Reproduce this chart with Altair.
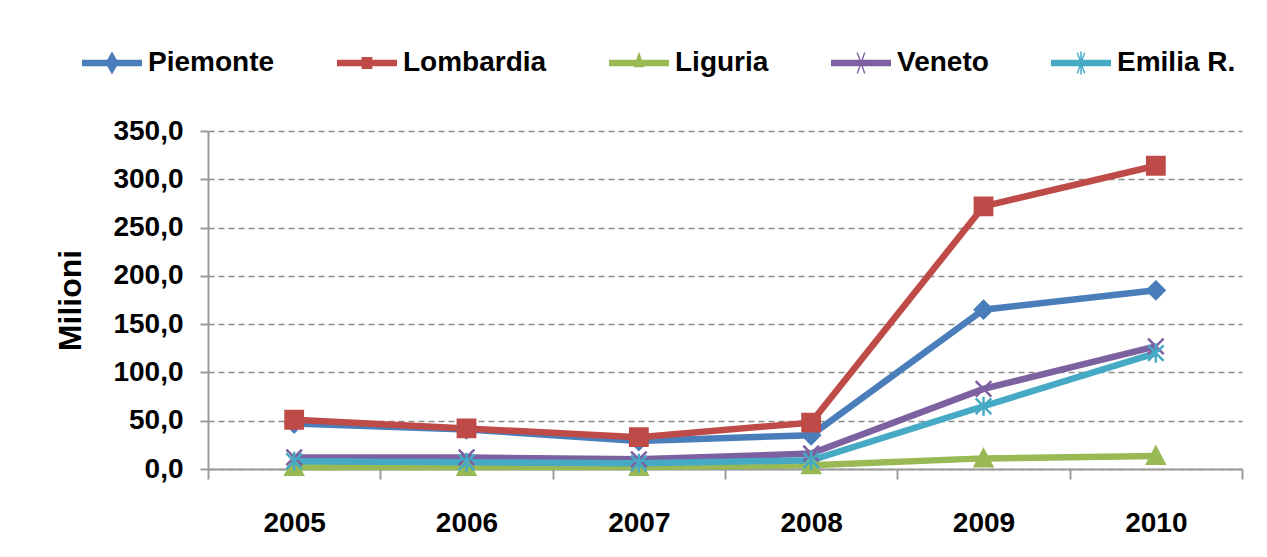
import altair as alt
import pandas as pd

years = ["2005", "2006", "2007", "2008", "2009", "2010"]
series = ["Piemonte", "Lombardia", "Liguria", "Veneto", "Emilia R."]
piemonte = [47, 41, 29, 35, 165, 185]
lombardia = [51, 42, 33, 48, 272, 314]
liguria = [2, 2, 2, 4, 11, 13.5]
veneto = [12, 12, 10, 16, 83, 127]
emilia = [8, 7, 6, 9, 65, 120]
y_ticks = [0, 50, 100, 150, 200, 250, 300, 350]

colors = ["#4A7EBB", "#BE4B48", "#98B954", "#7D60A0", "#46AAC5"]

marker_paths = [
    "M0,-1L1,0L0,1L-1,0Z",
    "M-1,-1L1,-1L1,1L-1,1Z",
    "M0,-1L1,0.9L-1,0.9Z",
    "M-0.9,-0.9L0.9,0.9M-0.9,0.9L0.9,-0.9",
    "M-0.9,-0.9L0.9,0.9M-0.9,0.9L0.9,-0.9M0,-1.1L0,1.1",
]

bar = "M-1,-0.11L1,-0.11L1,0.11L-1,0.11Z"
legend_paths = [
    bar + "M0,-0.38L0.22,0L0,0.38L-0.22,0Z",
    bar + "M-0.18,-0.2L0.18,-0.2L0.18,0.2L-0.18,0.2Z",
    bar + "M0,-0.38L0.18,0.14L-0.18,0.14Z",
    bar + "M-0.15,-0.35L-0.1,-0.35L0.15,0.35L0.1,0.35Z"
          "M0.1,-0.35L0.15,-0.35L-0.1,0.35L-0.15,0.35Z",
    bar + "M-0.15,-0.35L-0.1,-0.35L0.15,0.35L0.1,0.35Z"
          "M0.1,-0.35L0.15,-0.35L-0.1,0.35L-0.15,0.35Z"
          "M-0.025,-0.38L0.025,-0.38L0.025,0.38L-0.025,0.38Z",
]

values = [piemonte, lombardia, liguria, veneto, emilia]
rows = []
for s, vals in zip(series, values):
    for y, v in zip(years, vals):
        rows.append({"year": y, "series": s, "value": v})
df = pd.DataFrame(rows)

FONT = "Liberation Sans"

x_enc = alt.X(
    "year:O",
    bandPosition=0.5,
    scale=alt.Scale(type="band", domain=years, paddingInner=0, paddingOuter=0),
    axis=alt.Axis(
        title=None,
        tickBand="extent",
        tickSize=10,
        tickColor="#9a9a9a",
        tickWidth=2,
        domainColor="#9a9a9a",
        domainWidth=2,
        labelFont=FONT,
        labelFontSize=28,
        labelFontWeight="bold",
        labelColor="#000000",
        labelPadding=30,
        labelAngle=0,
        grid=False,
    ),
)

y_enc = alt.Y(
    "value:Q",
    scale=alt.Scale(domain=[0, 350], nice=False, zero=True),
    axis=alt.Axis(
        title="Milioni",
        titleFont=FONT,
        titleFontSize=32,
        titleFontWeight="bold",
        titleColor="#000000",
        titleX=-138,
        titleY=169,
        titleAngle=270,
        titleAlign="center",
        titleBaseline="middle",
        values=y_ticks,
        labelExpr="replace(format(datum.value, '.1f'), '.', ',')",
        labelFont=FONT,
        labelFontSize=28,
        labelFontWeight="bold",
        labelColor="#000000",
        labelPadding=17,
        tickSize=8,
        tickColor="#9a9a9a",
        tickWidth=2,
        domainColor="#9a9a9a",
        domainWidth=2,
        grid=True,
        gridColor="#8a8a8a",
        gridDash=[6, 4],
        gridWidth=1.6,
    ),
)

color_scale = alt.Scale(domain=series, range=colors)

lines = alt.Chart(df).mark_line(strokeWidth=6.5).encode(
    x=x_enc,
    y=y_enc,
    color=alt.Color("series:N", scale=color_scale, legend=None),
    detail="series:N",
)

points = alt.Chart(df).mark_point(filled=True, size=300, strokeWidth=2.5, opacity=1).encode(
    x=x_enc,
    y=y_enc,
    color=alt.Color("series:N", scale=color_scale, legend=None),
    stroke=alt.Stroke("series:N", scale=color_scale, legend=None),
    shape=alt.Shape("series:N", scale=alt.Scale(domain=series, range=marker_paths), legend=None),
)

legend_props = dict(
    title=None,
    orient="none",
    direction="horizontal",
    legendX=-126,
    legendY=-98,
    symbolSize=3600,
    symbolStrokeWidth=0,
    labelFont=FONT,
    labelFontSize=28,
    labelFontWeight="bold",
    labelColor="#000000",
    labelOffset=6,
    columnPadding=62,
    padding=0,
    labelLimit=400,
)

legend_layer = alt.Chart(df).transform_filter("false").mark_point(filled=True, opacity=1).encode(
    x=x_enc,
    y=y_enc,
    color=alt.Color("series:N", scale=color_scale, legend=alt.Legend(**legend_props)),
    shape=alt.Shape(
        "series:N",
        scale=alt.Scale(domain=series, range=legend_paths),
        legend=alt.Legend(**legend_props),
    ),
)

chart = (
    alt.layer(lines, points, legend_layer)
    .resolve_scale(shape="independent", color="independent", stroke="independent")
    .properties(
        width=1034,
        height=338,
        autosize=alt.AutoSizeParams(type="none"),
        padding={"left": 200, "top": 123, "right": 17, "bottom": 80},
        background="#ffffff",
    )
    .configure_view(stroke=None)
)

chart.save("out.html", embed_options={"renderer": "svg", "actions": False})
